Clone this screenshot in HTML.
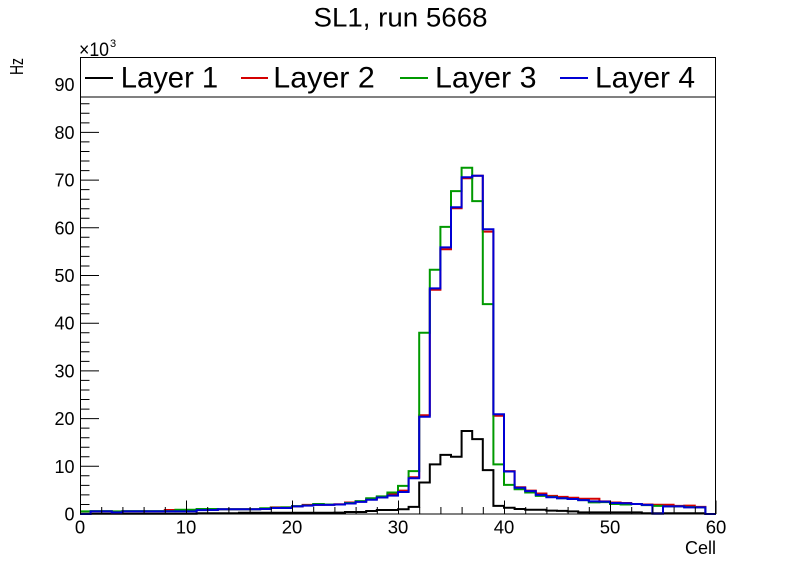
<!DOCTYPE html>
<html>
<head>
<meta charset="utf-8">
<style>
html,body{margin:0;padding:0;background:#fff;}
svg{display:block;}
text{font-family:"Liberation Sans",Arial,sans-serif;fill:#000;}
</style>
</head>
<body>
<svg width="796" height="572" viewBox="0 0 796 572" xmlns="http://www.w3.org/2000/svg">
<rect x="0" y="0" width="796" height="572" fill="#fff"/>

<!-- Title -->
<text x="313.5" y="26.7" font-size="27" textLength="174" lengthAdjust="spacingAndGlyphs">SL1, run 5668</text>

<!-- Histograms -->
<g transform="translate(80,514) scale(10.6,-4.77)" fill="none" stroke-width="2" stroke-linejoin="miter">
<path vector-effect="non-scaling-stroke" stroke="#000" d="M0,0.05 H11 V0.15 H15 V0.25 H24 V0.3 H25 V0.42 H27 V0.63 H28 V0.84 H30 V1 H31 V1.5 H32 V6.6 H33 V10.4 H34 V12.4 H35 V12 H36 V17.4 H37 V15.7 H38 V9.2 H39 V1.7 H40 V1.3 H41 V1.05 H42 V0.9 H44 V0.7 H45 V0.65 H46 V0.55 H47 V0.35 H53 V0.15 H59 V0 H60"/>
<path vector-effect="non-scaling-stroke" stroke="#d40000" d="M0,0 H1 V0.55 H3 V0.35 H4 V0.55 H8 V0.85 H9 V0.6 H11 V0.85 H13 V1 H17 V1.1 H18 V1.4 H20 V1.6 H21 V1.9 H23 V1.95 H24 V2.05 H25 V2.4 H26 V2.6 H27 V3.1 H28 V3.5 H29 V4.2 H30 V4.9 H31 V7.7 H32 V20.7 H33 V47 H34 V55.5 H35 V64.1 H36 V70.4 H37 V70.9 H38 V59.2 H39 V20.6 H40 V9 H41 V5.6 H42 V4.9 H43 V4.3 H44 V3.8 H45 V3.6 H46 V3.4 H47 V3.2 H49 V2.65 H50 V2.4 H51 V2.3 H52 V2.1 H53 V2 H54 V1.95 H56 V1.7 H57 V1.75 H58 V1.5 H59 V0 H60"/>
<path vector-effect="non-scaling-stroke" stroke="#009900" d="M0,0.55 H1 V0.6 H3 V0.55 H4 V0.6 H9 V0.9 H11 V1.05 H13 V1 H17 V1.2 H18 V1.3 H19 V1.4 H20 V1.65 H21 V1.8 H22 V2.1 H23 V2 H25 V2.3 H26 V2.7 H27 V3.3 H28 V3.7 H29 V4.5 H30 V5.9 H31 V9 H32 V38 H33 V51.2 H34 V60.2 H35 V67.7 H36 V72.6 H37 V65.6 H38 V44 H39 V10.4 H40 V6.1 H41 V5.2 H42 V4.5 H43 V3.8 H44 V3.6 H45 V3.3 H46 V3.15 H47 V2.9 H48 V2.45 H49 V2.5 H50 V2.1 H51 V2 H52 V2.1 H53 V1.85 H54 V1.7 H55 V1.6 H57 V1.45 H58 V1.4 H59 V0 H60"/>
<path vector-effect="non-scaling-stroke" stroke="#0000d4" d="M0,0 H1 V0.55 H3 V0.35 H4 V0.55 H11 V0.8 H12 V0.85 H13 V1 H17 V1.05 H18 V1.25 H20 V1.6 H21 V1.75 H22 V1.9 H24 V2 H25 V2.2 H26 V2.55 H27 V3 H28 V3.45 H29 V3.85 H30 V4.6 H31 V7.5 H32 V20.4 H33 V47.3 H34 V55.9 H35 V64.3 H36 V70.6 H37 V70.9 H38 V59.7 H39 V20.9 H40 V8.9 H41 V5.5 H42 V4.8 H43 V4 H44 V3.5 H45 V3.3 H46 V3.15 H47 V2.9 H48 V2.65 H49 V2.6 H50 V2.3 H51 V2.25 H52 V2.1 H53 V1.9 H54 V0.05 H55 V1.6 H57 V1.4 H59 V0 H60"/>
</g>

<!-- Frame -->
<rect x="80.5" y="57.5" width="635" height="456.5" fill="none" stroke="#000" stroke-width="1"/>

<!-- Y ticks -->
<g stroke="#000" stroke-width="1">
<path d="M80,514 H99 M80,466.3 H99 M80,418.6 H99 M80,370.9 H99 M80,323.2 H99 M80,275.5 H99 M80,227.8 H99 M80,180.1 H99 M80,132.4 H99 M80,84.7 H99"/>
<path d="M80,504.5 H89.5 M80,494.9 H89.5 M80,485.4 H89.5 M80,475.8 H89.5
M80,456.8 H89.5 M80,447.2 H89.5 M80,437.7 H89.5 M80,428.1 H89.5
M80,409.1 H89.5 M80,399.5 H89.5 M80,390 H89.5 M80,380.4 H89.5
M80,361.4 H89.5 M80,351.8 H89.5 M80,342.3 H89.5 M80,332.7 H89.5
M80,313.7 H89.5 M80,304.1 H89.5 M80,294.6 H89.5 M80,285 H89.5
M80,266 H89.5 M80,256.4 H89.5 M80,246.9 H89.5 M80,237.3 H89.5
M80,218.3 H89.5 M80,208.7 H89.5 M80,199.2 H89.5 M80,189.6 H89.5
M80,170.6 H89.5 M80,161 H89.5 M80,151.5 H89.5 M80,141.9 H89.5
M80,122.9 H89.5 M80,113.3 H89.5 M80,103.8 H89.5 M80,94.2 H89.5
M80,75.2 H89.5 M80,65.6 H89.5"/>
</g>

<!-- X ticks -->
<g stroke="#000" stroke-width="1">
<path d="M80.5,514 V500.5 M186.5,514 V500.5 M292.5,514 V500.5 M398.5,514 V500.5 M504.5,514 V500.5 M610.5,514 V500.5 M716,514 V500.5"/>
<path d="M101.7,514 V507 M122.9,514 V507 M144.1,514 V507 M165.3,514 V507
M207.7,514 V507 M228.9,514 V507 M250.1,514 V507 M271.3,514 V507
M313.7,514 V507 M334.9,514 V507 M356.1,514 V507 M377.3,514 V507
M419.7,514 V507 M440.9,514 V507 M462.1,514 V507 M483.3,514 V507
M525.7,514 V507 M546.9,514 V507 M568.1,514 V507 M589.3,514 V507
M631.7,514 V507 M652.9,514 V507 M674.1,514 V507 M695.3,514 V507"/>
</g>

<!-- Y labels -->
<g font-size="18" text-anchor="end">
<text x="74.5" y="520.5">0</text>
<text x="74.5" y="472.8">10</text>
<text x="74.5" y="425.1">20</text>
<text x="74.5" y="377.4">30</text>
<text x="74.5" y="329.7">40</text>
<text x="74.5" y="282">50</text>
<text x="74.5" y="234.3">60</text>
<text x="74.5" y="186.6">70</text>
<text x="74.5" y="138.9">80</text>
<text x="74.5" y="91.2">90</text>
</g>

<!-- X labels -->
<g font-size="18.5" text-anchor="middle">
<text x="80" y="533.5">0</text>
<text x="186" y="533.5">10</text>
<text x="292" y="533.5">20</text>
<text x="398" y="533.5">30</text>
<text x="504" y="533.5">40</text>
<text x="610" y="533.5">50</text>
<text x="716" y="533.5">60</text>
</g>

<!-- Axis titles -->
<text x="716" y="554" font-size="18" text-anchor="end">Cell</text>
<text transform="translate(23,58) rotate(-90)" font-size="18" text-anchor="end" textLength="17" lengthAdjust="spacingAndGlyphs">Hz</text>
<text x="79" y="56" font-size="19" textLength="30" lengthAdjust="spacingAndGlyphs">×10</text>
<text x="110" y="47" font-size="11">3</text>

<!-- Legend -->
<rect x="80.5" y="57.5" width="635" height="39.5" fill="#fff" stroke="#000" stroke-width="1"/>
<g stroke-width="2">
<line x1="85" y1="78" x2="113" y2="78" stroke="#000"/>
<line x1="241" y1="78" x2="268" y2="78" stroke="#d40000"/>
<line x1="400" y1="78" x2="428" y2="78" stroke="#009900"/>
<line x1="560" y1="78" x2="588" y2="78" stroke="#0000d4"/>
</g>
<g font-size="30">
<text x="120.7" y="87.5" textLength="97.5" lengthAdjust="spacingAndGlyphs">Layer 1</text>
<text x="273.3" y="87.5" textLength="101.5" lengthAdjust="spacingAndGlyphs">Layer 2</text>
<text x="435" y="87.5" textLength="101.5" lengthAdjust="spacingAndGlyphs">Layer 3</text>
<text x="595" y="87.5" textLength="100" lengthAdjust="spacingAndGlyphs">Layer 4</text>
</g>
</svg>
</body>
</html>
